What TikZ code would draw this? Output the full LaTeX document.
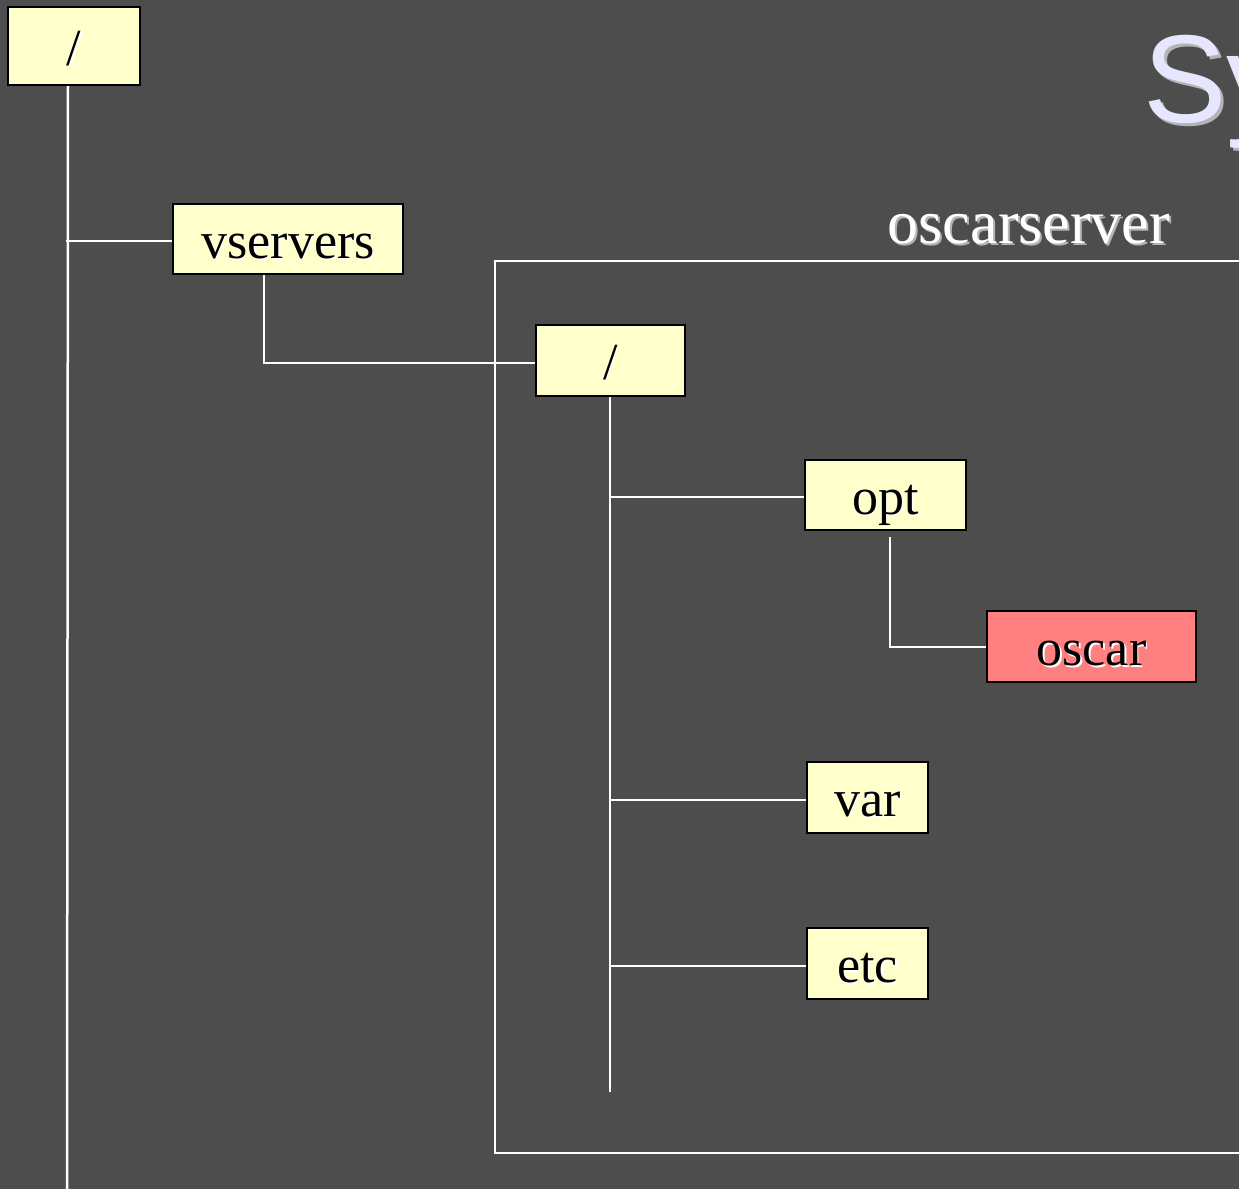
\documentclass[tikz,border=0pt]{standalone}
\usepackage{fontspec}
\setmainfont{Liberation Serif}
\newfontfamily\titlefont{Liberation Sans}
\definecolor{bg}{HTML}{4D4D4D}
\definecolor{boxfill}{HTML}{FFFFCC}
\definecolor{redfill}{HTML}{FF8080}
\definecolor{titlecol}{HTML}{E6E6FF}
\definecolor{shadowgrey}{HTML}{B4B4B4}
\newcommand\shtext[3]{\rlap{\hspace{#3}\raisebox{-#3}{\color{#1}#2}}#2}
\tikzset{
  dirbox/.style={draw=black, line width=2pt, fill=boxfill, inner sep=0pt,
    font=\fontsize{52}{60}\selectfont, text height=38pt, text depth=0pt},
  wire/.style={draw=white, line width=2.5pt},
}
\begin{document}
\begin{tikzpicture}[x=1pt,y=-1pt]
\fill[bg] (0,0) rectangle (1239,1189);
\useasboundingbox (0,0) rectangle (1239,1189);

% title fragment
\node[anchor=base west, inner sep=0pt, text=titlecol, font=\titlefont\fontsize{125}{140}\selectfont] (title) at (1143,122) {\shtext{shadowgrey}{Sy}{3pt}};

% oscarserver frame and label
\coordinate (frTL) at (495,261);
\coordinate (frBR) at (1260,1153);
\draw[wire] (frTL) rectangle (frBR);
\node[anchor=base, inner sep=0pt, text=white, font=\fontsize{62}{70}\selectfont] (srvlabel) at (1029,243) {\shtext{shadowgrey}{oscarserver}{2pt}};

% boxes
\node[dirbox, minimum width=132pt, minimum height=78pt] (root) at (74,46) {\shtext{white}{/}{1.5pt}};
\node[dirbox, minimum width=230pt, minimum height=70pt] (vsrv) at (288,239) {\shtext{white}{vservers}{1.5pt}};
\node[dirbox, minimum width=149pt, minimum height=71pt] (iroot) at (610.5,360.5) {\shtext{white}{/}{1.5pt}};
\node[dirbox, minimum width=161pt, minimum height=70pt] (opt) at (885.5,495) {\shtext{white}{opt}{1.5pt}};
\node[dirbox, fill=redfill, minimum width=209pt, minimum height=71pt] (oscar) at (1091.5,646.5) {\shtext{white}{oscar}{1.5pt}};
\node[dirbox, minimum width=121pt, minimum height=71pt] (var) at (867.5,797.5) {\shtext{white}{var}{1.5pt}};
\node[dirbox, minimum width=121pt, minimum height=71pt] (etc) at (867.5,963.5) {\shtext{white}{etc}{1.5pt}};

% connectors
\coordinate (rootend) at (67,1189);
\draw[wire] (root.south -| 68,0) -- (rootend);
\coordinate (vj) at (66,241);
\draw[wire] (vj) -- (vsrv.west |- vj);
\coordinate (vc) at (264,363);
\draw[wire] (vsrv.south -| vc) -- (vc) -- (iroot.west |- vc);
\coordinate (iend) at (610,1092);
\draw[wire] (iroot.south -| iend) -- (iend);
\coordinate (oj) at (610,497);
\draw[wire] (oj) -- (opt.west |- oj);
\coordinate (vaj) at (610,800);
\draw[wire] (vaj) -- (var.west |- vaj);
\coordinate (ej) at (610,966);
\draw[wire] (ej) -- (etc.west |- ej);
\coordinate (ot) at (890,537);
\coordinate (oc) at (890,647);
\draw[wire] (ot) -- (oc) -- (oscar.west |- oc);
\end{tikzpicture}
\end{document}
